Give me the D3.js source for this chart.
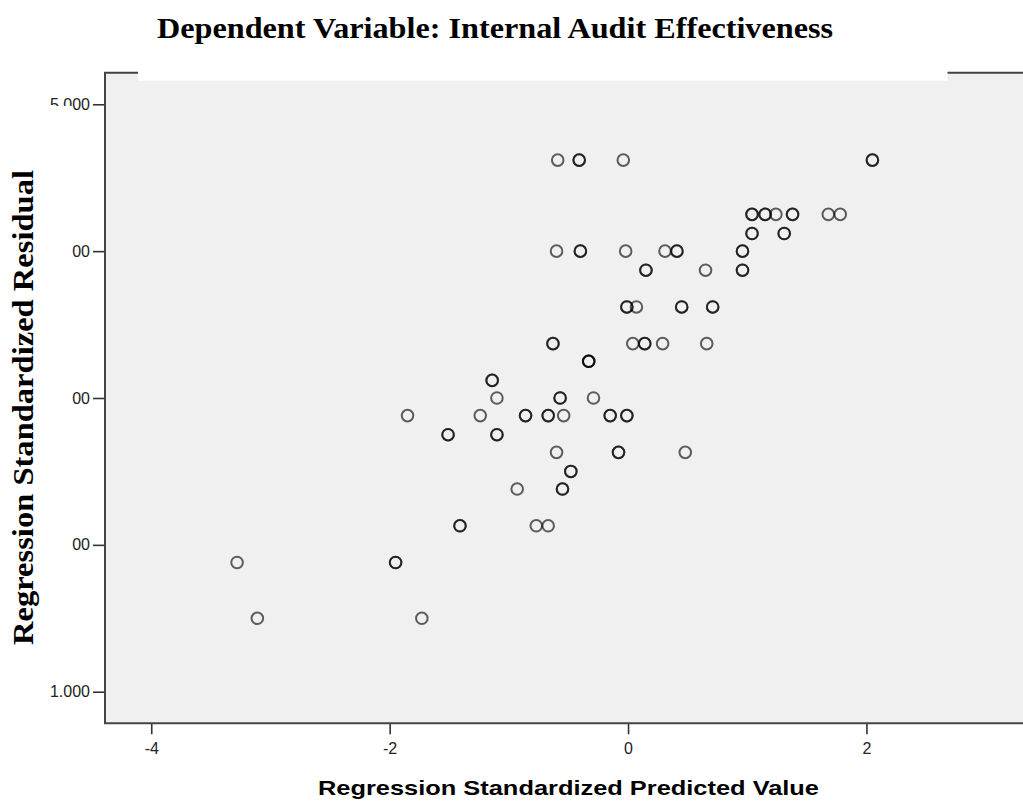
<!DOCTYPE html>
<html>
<head>
<meta charset="utf-8">
<script src="https://cdn.jsdelivr.net/npm/d3@7"></script>
<style>
  body { margin: 0; background: #fff; }
</style>
</head>
<body>
<div id="chart"></div>
<script>
// one entry per plotted position, nCases = how many cases sit on it
var predX = [
  -0.59, -0.41, -0.04, 2.05,
  1.04, 1.15, 1.24, 1.38, 1.68, 1.78,
  1.04, 1.31,
  -0.60, -0.40, -0.02, 0.31, 0.41, 0.96,
  0.15, 0.65, 0.96,
  -0.01, 0.07, 0.45, 0.71,
  -0.63, 0.04, 0.14, 0.29, 0.66,
  -0.33,
  -1.14,
  -1.10, -0.57, -0.29,
  -1.85, -1.24, -0.86, -0.67, -0.54, -0.15, -0.01,
  -1.51, -1.10,
  -0.60, -0.08, 0.48,
  -0.48,
  -0.93, -0.55,
  -1.41, -0.77, -0.67,
  -3.28, -1.95,
  -3.11, -1.73
];
var residY = [
  1.62, 1.62, 1.62, 1.62,
  1.25, 1.25, 1.25, 1.25, 1.25, 1.25,
  1.12, 1.12,
  1.00, 1.00, 1.00, 1.00, 1.00, 1.00,
  0.87, 0.87, 0.87,
  0.62, 0.62, 0.62, 0.62,
  0.37, 0.37, 0.37, 0.37, 0.37,
  0.25,
  0.12,
  0.00, 0.00, 0.00,
  -0.12, -0.12, -0.12, -0.12, -0.12, -0.12, -0.12,
  -0.25, -0.25,
  -0.37, -0.37, -0.37,
  -0.50,
  -0.62, -0.62,
  -0.87, -0.87, -0.87,
  -1.12, -1.12,
  -1.50, -1.50
];
var nCases = [
  1, 2, 1, 2,
  2, 2, 1, 2, 1, 1,
  2, 2,
  1, 2, 1, 1, 2, 2,
  2, 1, 2,
  2, 1, 2, 2,
  2, 1, 2, 1, 1,
  3,
  2,
  1, 2, 1,
  1, 1, 2, 2, 1, 2, 2,
  2, 2,
  1, 2, 1,
  2,
  1, 2,
  2, 1, 1,
  1, 2,
  1, 1
];

var xTicks = [-4, -2, 0, 2];
var yTicks = [2, 1, 0, -1, -2];
var yTickLabels = ["5.000", "00", "00", "00", "1.000"];

var titleText = "Dependent Variable: Internal Audit Effectiveness";
var xTitle = "Regression Standardized Predicted Value";
var yTitle = "Regression Standardized Residual";

var width = 1023,
    height = 804;

var svg = d3.select("#chart").append("svg")
    .attr("width", width)
    .attr("height", height);

var x = d3.scaleLinear().domain([-4.388, 3.372]).range([105, 1030]);
var y = d3.scaleLinear().domain([-2.215, 2.215]).range([723.3, 72.7]);

// plot background
svg.append("rect")
    .attr("x", x.range()[0])
    .attr("y", y.range()[1])
    .attr("width", x.range()[1] - x.range()[0])
    .attr("height", y.range()[0] - y.range()[1])
    .attr("fill", "#f0f0f0");

// expand each position into its cases so overlaps darken
var cases = [];
for (var i = 0; i < predX.length; i++) {
  for (var k = 0; k < nCases[i]; k++) {
    cases.push({"x": predX[i], "y": residY[i]});
  }
}

svg.append("g")
    .attr("class", "points")
  .selectAll("circle")
  .data(cases)
  .enter().append("circle")
    .attr("cx", function(d) { return x(d.x); })
    .attr("cy", function(d) { return y(d.y); })
    .attr("r", 5.8)
    .attr("fill", "none")
    .attr("stroke", "#000")
    .attr("stroke-opacity", 0.62)
    .attr("stroke-width", 2);

// axes
var xAxis = svg.append("g")
    .attr("transform", "translate(0," + y.range()[0] + ")")
    .call(d3.axisBottom(x).tickValues(xTicks).tickSize(11).tickPadding(8)
      .tickFormat(function(d) { return d; }));

var yAxis = svg.append("g")
    .attr("transform", "translate(" + x.range()[0] + ",0)")
    .call(d3.axisLeft(y).tickValues(yTicks).tickSize(12).tickPadding(3)
      .tickFormat(function(d, i) { return yTickLabels[i]; }));

[xAxis, yAxis].forEach(function(a) {
  a.select(".domain").remove();
  a.selectAll(".tick line").attr("stroke", "#333").attr("stroke-width", 1.6);
  a.selectAll(".tick text")
    .attr("fill", "#222")
    .style("font-family", "Arial, 'Liberation Sans', sans-serif")
    .style("font-size", "16px");
});

// frame: left, top and bottom edges (right edge runs off the picture)
svg.append("path")
    .attr("d", "M" + x.range()[1] + "," + y.range()[1] +
               "H" + x.range()[0] + "V" + y.range()[0] + "H" + x.range()[1])
    .attr("fill", "none")
    .attr("stroke", "#444")
    .attr("stroke-width", 2);

// white patches pasted over the original chart
svg.append("rect")
    .attr("x", 138).attr("y", 50)
    .attr("width", 947.5 - 138).attr("height", 80.7 - 50)
    .attr("fill", "#fff");
svg.append("rect")
    .attr("x", 0).attr("y", 106)
    .attr("width", 72).attr("height", 684 - 106)
    .attr("fill", "#fff");

// titles
svg.append("text")
    .attr("x", 157)
    .attr("y", 38)
    .attr("textLength", 676)
    .attr("lengthAdjust", "spacingAndGlyphs")
    .style("font-family", "'Times New Roman', 'Liberation Serif', serif")
    .style("font-weight", "bold")
    .style("font-size", "30px")
    .text(titleText);

svg.append("text")
    .attr("transform", "translate(33,645) rotate(-90)")
    .attr("textLength", 475)
    .attr("lengthAdjust", "spacingAndGlyphs")
    .style("font-family", "'Times New Roman', 'Liberation Serif', serif")
    .style("font-weight", "bold")
    .style("font-size", "30px")
    .text(yTitle);

svg.append("text")
    .attr("x", 318)
    .attr("y", 795)
    .attr("textLength", 501)
    .attr("lengthAdjust", "spacingAndGlyphs")
    .style("font-family", "Arial, 'Liberation Sans', sans-serif")
    .style("font-weight", "bold")
    .style("font-size", "21px")
    .text(xTitle);
</script>
</body>
</html>
